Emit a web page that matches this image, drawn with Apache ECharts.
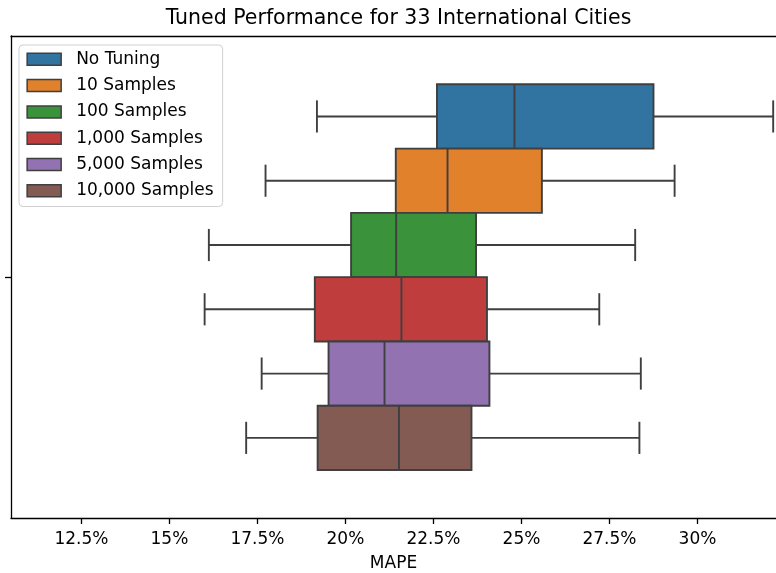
<!DOCTYPE html>
<html>
<head>
<meta charset="utf-8">
<script src="https://cdn.jsdelivr.net/npm/echarts@6/dist/echarts.min.js"></script>
<style>
  html, body { margin: 0; padding: 0; background: #fff; }
  #chart { width: 776px; height: 573px; }
</style>
</head>
<body>
<div id="chart"></div>
<script>
// ---- data (MAPE, %) ----
const groups = ['No Tuning', '10 Samples', '100 Samples', '1,000 Samples', '5,000 Samples', '10,000 Samples'];
const whiskerLow = [19.19, 17.73, 16.12, 16.00, 17.62, 17.18];
const q1         = [22.60, 21.43, 20.16, 19.13, 19.52, 19.21];
const median     = [24.80, 22.90, 21.44, 21.59, 21.11, 21.52];
const q3         = [28.75, 25.58, 23.71, 24.02, 24.09, 23.58];
const whiskerHigh= [32.15, 29.35, 28.23, 27.21, 28.39, 28.35];
const xTicks = [12.5, 15, 17.5, 20, 22.5, 25, 27.5, 30];
const xMin = 10.5, xMax = 32.23;

const colors = ['#3274a1', '#e1812c', '#3a923a', '#c03d3e', '#9372b2', '#845b53'];
const lineCol = '#3f3f3f';
const FONT = 'DejaVu Sans';

function renderBox(params, api) {
  const c = api.value(0);
  const p = [1, 2, 3, 4, 5].map(d => api.coord([api.value(d), c]));
  const bh = api.size([0, 1])[1];
  const y = p[0][1];
  const cap = bh / 4;
  const fill = api.visual('color');
  const ls = { stroke: lineCol, lineWidth: 1.9 };
  return {
    type: 'group',
    children: [
      { type: 'line', shape: { x1: p[0][0], y1: y, x2: p[1][0], y2: y }, style: ls },
      { type: 'line', shape: { x1: p[3][0], y1: y, x2: p[4][0], y2: y }, style: ls },
      { type: 'line', shape: { x1: p[0][0], y1: y - cap, x2: p[0][0], y2: y + cap }, style: ls },
      { type: 'line', shape: { x1: p[4][0], y1: y - cap, x2: p[4][0], y2: y + cap }, style: ls },
      { type: 'rect', shape: { x: p[1][0], y: y - bh / 2, width: p[3][0] - p[1][0], height: bh },
        style: { fill: fill, stroke: lineCol, lineWidth: 1.9 } },
      { type: 'line', shape: { x1: p[2][0], y1: y - bh / 2, x2: p[2][0], y2: y + bh / 2 }, style: ls }
    ]
  };
}

const series = groups.map((g, i) => ({
  type: 'custom',
  name: g,
  xAxisIndex: 1,
  yAxisIndex: 1,
  itemStyle: { color: colors[i] },
  encode: { x: [1, 2, 3, 4, 5], y: 0 },
  data: [[i, whiskerLow[i], q1[i], median[i], q3[i], whiskerHigh[i]]],
  renderItem: renderBox,
  z: 2
}));

const fmt = v => (Math.round(v * 10) / 10) + '%';
const spine = { show: true, onZero: false, lineStyle: { color: '#000', width: 1.3 } };

const option = {
  animation: false,
  backgroundColor: '#fff',
  title: {
    text: 'Tuned Performance for 33 International Cities',
    left: 398.5,
    textAlign: 'center',
    top: 8,
    padding: 0,
    textStyle: { fontFamily: FONT, fontSize: 20.5, fontWeight: 'normal', color: '#000' }
  },
  legend: {
    orient: 'vertical',
    left: 19,
    top: 45,
    padding: [4.3, 9, 5.7, 7.4],
    itemWidth: 34,
    itemHeight: 12,
    itemGap: 6.3,
    icon: 'rect',
    borderColor: '#cfcfcf',
    borderWidth: 1,
    borderRadius: 4,
    backgroundColor: 'rgba(255,255,255,0.85)',
    itemStyle: { borderColor: lineCol, borderWidth: 1.5 },
    textStyle: { fontFamily: FONT, fontSize: 17, color: '#000', lineHeight: 20, padding: [0, 0, 0, 10] },
    data: groups.map((g, i) => ({ name: g, itemStyle: { color: colors[i] } })),
    z: 10
  },
  grid: [
    { left: 11, top: 36, right: 0, height: 482, outerBoundsMode: 'none', containLabel: false },
    { left: 11, top: 84.3, right: 0, height: 385.7, outerBoundsMode: 'none', containLabel: false }
  ],
  xAxis: [
    {
      type: 'value', gridIndex: 0, min: xMin, max: xMax, position: 'bottom',
      name: 'MAPE', nameLocation: 'middle', nameGap: 37,
      nameTextStyle: { fontFamily: FONT, fontSize: 17, color: '#000' },
      axisLine: spine,
      axisTick: { show: true, customValues: xTicks, length: 6, lineStyle: { color: '#000', width: 1.3 } },
      axisLabel: { customValues: xTicks, formatter: fmt, fontFamily: FONT, fontSize: 17, color: '#000', margin: 13 },
      splitLine: { show: false }
    },
    { type: 'value', gridIndex: 1, min: xMin, max: xMax, show: false, splitLine: { show: false } },
    {
      type: 'value', gridIndex: 0, min: xMin, max: xMax, position: 'top',
      axisLine: spine, axisTick: { show: false }, axisLabel: { show: false }, splitLine: { show: false }
    }
  ],
  yAxis: [
    {
      type: 'value', gridIndex: 0, min: -0.5, max: 0.5, position: 'left',
      axisLine: spine,
      axisTick: { show: true, customValues: [0], length: 6, lineStyle: { color: '#000', width: 1.3 } },
      axisLabel: { show: false },
      splitLine: { show: false }
    },
    { type: 'category', gridIndex: 1, data: groups, inverse: true, show: false }
  ],
  series: series
};

const chart = echarts.init(document.getElementById('chart'), null, { renderer: 'canvas' });
chart.setOption(option);
</script>
</body>
</html>
